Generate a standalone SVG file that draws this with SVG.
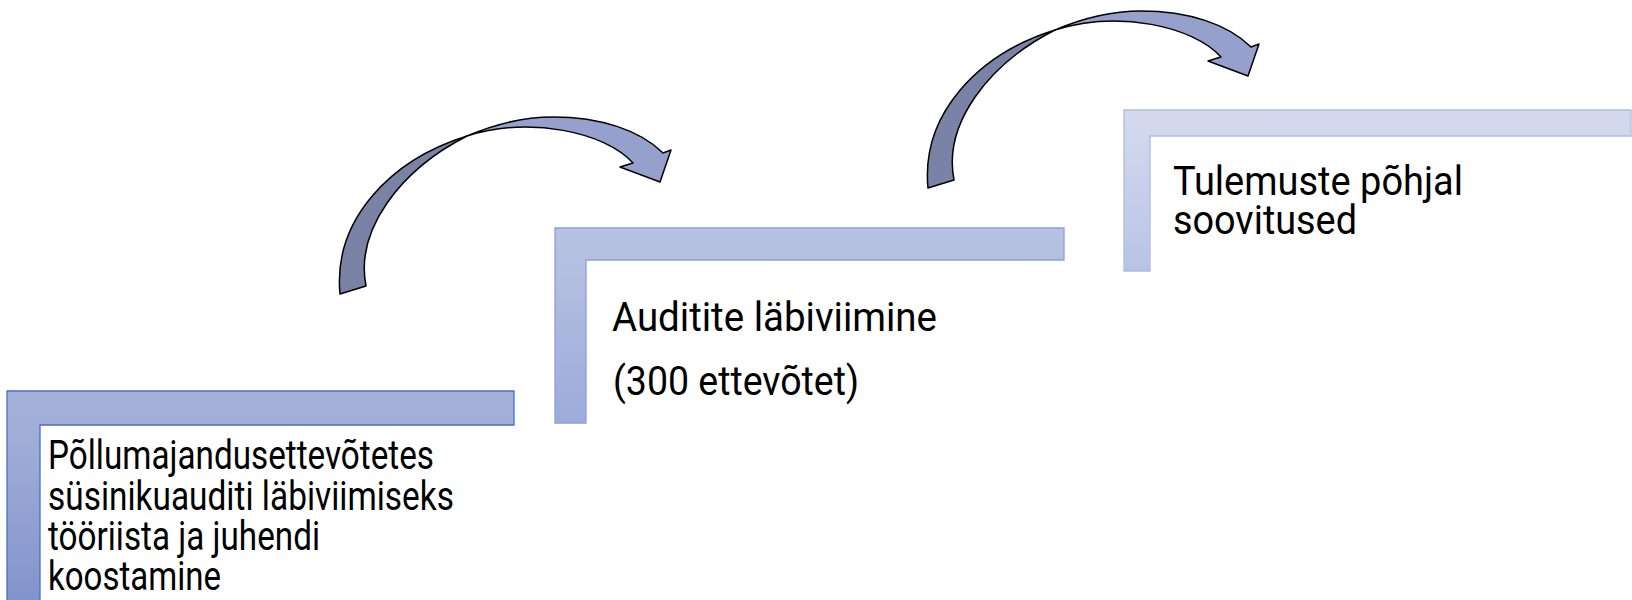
<svg xmlns="http://www.w3.org/2000/svg" xmlns:xlink="http://www.w3.org/1999/xlink" width="1632" height="600" viewBox="0 0 1632 600">
  <style>
    .lbl { font-family: Roboto, "Liberation Sans", sans-serif; font-size: 40px; fill: #000; }
    .arrow-dark { fill: #7a82a6; stroke: #000; stroke-width: 1.5; stroke-linejoin: round; }
    .arrow-light { fill: #96a0cc; stroke: #000; stroke-width: 1.5; stroke-linejoin: round; }
  </style>
  <defs>
    <linearGradient id="g1" x1="0" y1="391" x2="0" y2="600" gradientUnits="userSpaceOnUse">
      <stop offset="0" stop-color="#a4b0d8"/>
      <stop offset="0.2" stop-color="#a2aed8"/>
      <stop offset="1" stop-color="#8294cc"/>
    </linearGradient>
    <linearGradient id="g2" x1="0" y1="228" x2="0" y2="423" gradientUnits="userSpaceOnUse">
      <stop offset="0" stop-color="#b7c2e2"/>
      <stop offset="0.2" stop-color="#b4bfe1"/>
      <stop offset="1" stop-color="#9cabd9"/>
    </linearGradient>
    <linearGradient id="g3" x1="0" y1="110" x2="0" y2="271" gradientUnits="userSpaceOnUse">
      <stop offset="0" stop-color="#d4d9ee"/>
      <stop offset="0.2" stop-color="#d0d6ec"/>
      <stop offset="1" stop-color="#b8c3e6"/>
    </linearGradient>
    <g id="curvedArrow">
      <path class="arrow-dark" d="M340,294 C333,220 390,160 467,136 C400,170 355,230 366,286 Z"/>
      <path class="arrow-light" d="M467,136 C495,124 525,117 553,117 C600,117 640,130 663,153 L671,150 L660,182 L620,167 L633,163 C605,132 530,116 467,136 Z"/>
    </g>
  </defs>

  <g id="step1">
    <path d="M7,391 H514 V425 H40 V602 H7 Z" fill="url(#g1)" stroke="#4472c4" stroke-width="1.3"/>
    <text class="lbl" x="48" y="469" textLength="386" lengthAdjust="spacingAndGlyphs">Põllumajandusettevõtetes</text>
    <text class="lbl" x="48" y="509.5" textLength="406" lengthAdjust="spacingAndGlyphs">süsinikuauditi läbiviimiseks</text>
    <text class="lbl" x="48" y="550" textLength="272" lengthAdjust="spacingAndGlyphs">tööriista ja juhendi</text>
    <text class="lbl" x="48" y="590" textLength="173" lengthAdjust="spacingAndGlyphs">koostamine</text>
  </g>

  <g id="step2">
    <path d="M555,228 H1064 V260 H586 V423 H555 Z" fill="url(#g2)" stroke="#8da0d8" stroke-width="1.3"/>
    <text class="lbl" x="612" y="331" textLength="325" lengthAdjust="spacingAndGlyphs">Auditite läbiviimine</text>
    <text class="lbl" x="613" y="395" textLength="246" lengthAdjust="spacingAndGlyphs">(300 ettevõtet)</text>
  </g>

  <g id="step3">
    <path d="M1124,110 H1631 V136 H1150 V271 H1124 Z" fill="url(#g3)" stroke="#aebce5" stroke-width="1.3"/>
    <text class="lbl" x="1173" y="195" textLength="290" lengthAdjust="spacingAndGlyphs">Tulemuste põhjal</text>
    <text class="lbl" x="1173" y="234" textLength="184" lengthAdjust="spacingAndGlyphs">soovitused</text>
  </g>

  <g id="connectors">
    <use xlink:href="#curvedArrow" href="#curvedArrow"/>
    <use xlink:href="#curvedArrow" href="#curvedArrow" transform="translate(588,-106)"/>
  </g>
</svg>
